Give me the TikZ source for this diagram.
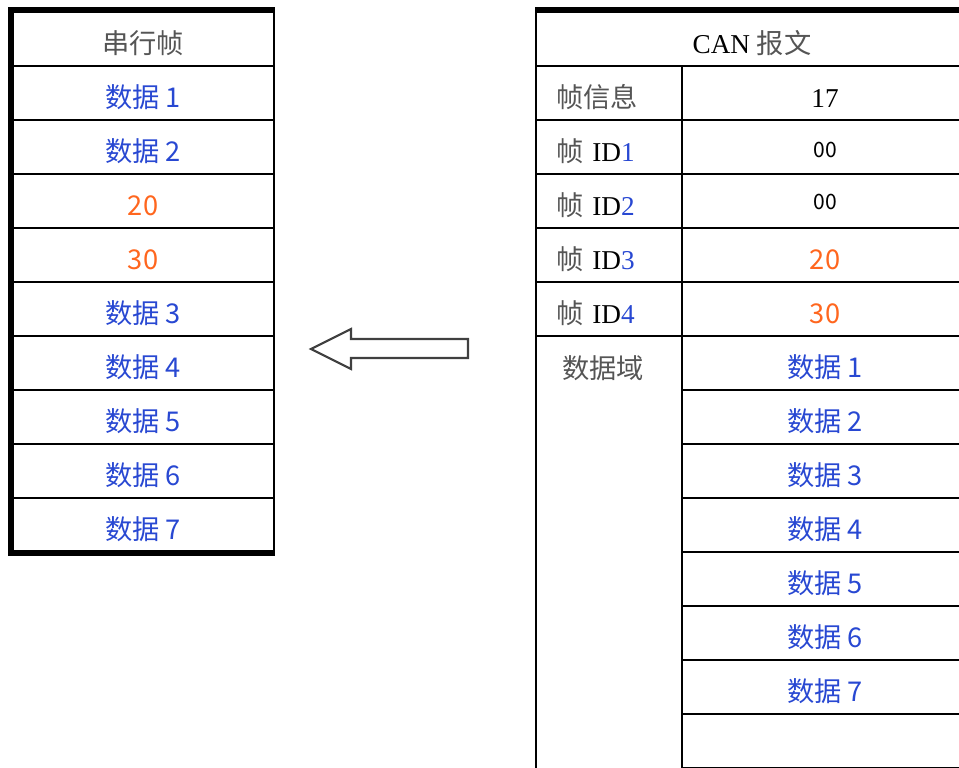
\documentclass[tikz,border=0pt]{standalone}
\usepackage{fontspec}
\setmainfont{Liberation Serif}
\newfontfamily\cjk{Noto Sans CJK SC}
\usepackage{tikz}
\definecolor{lblgrey}{RGB}{85,85,85}
\definecolor{datblue}{RGB}{40,72,210}
\definecolor{valorange}{RGB}{255,102,30}
\newcommand{\datitem}[1]{{\cjk\color{datblue}数据 #1}}
\newcommand{\hexval}[1]{{\cjk\color{valorange}#1}}
\newcommand{\idlabel}[1]{{\cjk\color{lblgrey}帧} ID{\color{datblue}#1}}
\tikzstyle{cell} = [rectangle, draw=black, line width=0.8pt, minimum width=5.24cm, minimum height=1.08cm, inner sep=0pt, text height=1.8em, text depth=0.1em]
\tikzstyle{lcell} = [cell, minimum width=2.92cm, text width=2.12cm, inner xsep=0.4cm, align=left]
\tikzstyle{vcell} = [cell, minimum width=5.72cm]
\tikzstyle{frame} = [line width=3.4pt, line join=miter]
\tikzstyle{blockarrow} = [line width=1.2pt, draw=black!75, fill=white, line join=miter]

\begin{document}
\begin{tikzpicture}[x=0.02cm, y=-0.02cm, node distance=1.08cm, font=\fontsize{15.5}{18}\selectfont]
        \useasboundingbox (0,0) rectangle (959,767);
        \clip (0,0) rectangle (959,767);

        % serial frame
        \node (serial) [cell] at (143,39) {\cjk\color{lblgrey}串行帧};
        \node (s1) [cell, below of=serial] {\datitem{1}};
        \node (s2) [cell, below of=s1] {\datitem{2}};
        \node (s3) [cell, below of=s2] {\hexval{20}};
        \node (s4) [cell, below of=s3] {\hexval{30}};
        \node (s5) [cell, below of=s4] {\datitem{3}};
        \node (s6) [cell, below of=s5] {\datitem{4}};
        \node (s7) [cell, below of=s6] {\datitem{5}};
        \node (s8) [cell, below of=s7] {\datitem{6}};
        \node (s9) [cell, below of=s8] {\datitem{7}};
        \draw [frame] ([yshift=0.03cm]serial.north east) -- ([yshift=0.03cm]serial.north west) -- (s9.south west) -- (s9.south east);

        % CAN message
        \node (can) [cell, minimum width=8.64cm] at (752,39) {CAN {\cjk\color{lblgrey}报文}};
        \node (info) [lcell] at (609,93) {\cjk\color{lblgrey}帧信息};
        \node (id1) [lcell, below of=info] {\idlabel{1}};
        \node (id2) [lcell, below of=id1] {\idlabel{2}};
        \node (id3) [lcell, below of=id2] {\idlabel{3}};
        \node (id4) [lcell, below of=id3] {\idlabel{4}};
        \node (field) [lcell, anchor=north, minimum height=9cm] at (609,336) {};
        \node (fieldtxt) [anchor=west] at (556,368) {\cjk\color{lblgrey}数据域};

        \node (vinfo) [vcell] at (825,93) {17};
        \node (vid1) [vcell, below of=vinfo, text height=1.35em] {\cjk\fontsize{12}{14}\selectfont 00};
        \node (vid2) [vcell, below of=vid1, text height=1.05em] {\cjk\fontsize{12}{14}\selectfont 00};
        \node (vid3) [vcell, below of=vid2] {\hexval{20}};
        \node (vid4) [vcell, below of=vid3] {\hexval{30}};
        \node (v1) [vcell] at (825,363) {\datitem{1}};
        \node (v2) [vcell, below of=v1] {\datitem{2}};
        \node (v3) [vcell, below of=v2] {\datitem{3}};
        \node (v4) [vcell, below of=v3] {\datitem{4}};
        \node (v5) [vcell, below of=v4] {\datitem{5}};
        \node (v6) [vcell, below of=v5] {\datitem{6}};
        \node (v7) [vcell, below of=v6] {\datitem{7}};
        \node (v8) [vcell, below of=v7] {};
        \draw [frame] ([yshift=0.03cm]can.north west) -- ([yshift=0.03cm]can.north east);

        \draw [blockarrow] (468,339) -- (351,339) -- (351,329) -- (311,349) -- (351,369) -- (351,358) -- (468,358) -- cycle;
    \end{tikzpicture}
\end{document}
